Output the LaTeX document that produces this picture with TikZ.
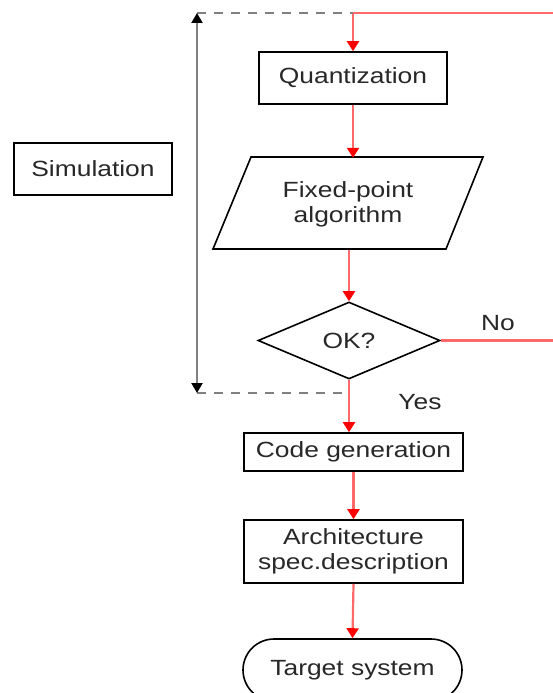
\documentclass[tikz,border=0pt]{standalone}
\usepackage{fontspec}
\setmainfont{Liberation Sans}[FakeStretch=1.2]
\usetikzlibrary{arrows.meta,shapes.geometric,shapes.misc}
\definecolor{flowred}{RGB}{255,105,105}
\definecolor{txt}{RGB}{40,40,40}
\tikzset{
  every node/.style={font=\fontsize{22}{25}\selectfont, text=txt, align=center},
  box/.style={draw=black, line width=1.6pt, rectangle, inner sep=0pt},
  flow/.style={draw=flowred, line width=2.2pt,
    -{Triangle[length=10pt,width=12pt,color=red,fill=red]}},
  flowline/.style={draw=flowred, line width=2.2pt},
  loopdash/.style={draw=black!50, line width=1.8pt, dash pattern=on 9pt off 8pt},
  span/.style={draw=black!50, line width=2.2pt,
    {Triangle[length=10pt,width=11pt,color=black,fill=black]}-{Triangle[length=10pt,width=11pt,color=black,fill=black]}}
}
\begin{document}
\begin{tikzpicture}[x=1pt,y=-1pt]
\useasboundingbox[fill=white] (0,0) rectangle (552,693);

% process steps
\node[box, minimum width=188, minimum height=52] (quant) at (353,78) {Quantization};
\draw[line width=1.6pt, line join=miter] (213,249) -- (251,157) -- (483,157) -- (446,249) -- cycle;
\node[minimum width=232, minimum height=92, inner sep=0pt] (fixed) at (348,204) {Fixed-point\\algorithm};
\node[draw=black, line width=1.6pt, diamond, minimum width=182, minimum height=77, inner sep=0pt] (ok) at (349,340.5) {OK?};
\node[box, minimum width=219, minimum height=38] (code) at (353.5,452) {Code generation};
\node[box, minimum width=219, minimum height=63] (arch) at (353.5,551.5) {Architecture\\spec.description};
\node[draw=black, line width=1.6pt, rounded rectangle, minimum width=219, minimum height=62, inner sep=0pt] (target) at (352.5,670) {Target system};
\node[box, minimum width=158, minimum height=52] (sim) at (93,169) {Simulation};

% labels on the decision
\node (no) at (498,323) {No};
\node (yes) at (420,402) {Yes};

% loop corners
\coordinate (loopin) at (353,13);
\coordinate (far) at (560,13);
\coordinate (farno) at (560,340.5);
\coordinate (simtop) at (197,13);
\coordinate (simbot) at (197,393);
\coordinate (exit) at (349,393);

% main flow
\draw[flow] (loopin) -- (quant.north);
\draw[flow] (quant.south) -- (quant.south |- fixed.north);
\draw[flow] (ok.north |- fixed.south) -- (ok.north);
\draw[flow] (ok.south) -- (ok.south |- code.north);
\draw[flow] (code.south) -- (arch.north);
\draw[flow] (arch.south) -- (target.north);

% "No" feedback
\draw[flowline] (ok.east) -- (farno) -- (far) -- (loopin);

% simulation span
\draw[loopdash] (simtop) -- (loopin);
\draw[loopdash] (simbot) -- (exit);
\draw[span] (simbot) -- (simtop);
\end{tikzpicture}
\end{document}
